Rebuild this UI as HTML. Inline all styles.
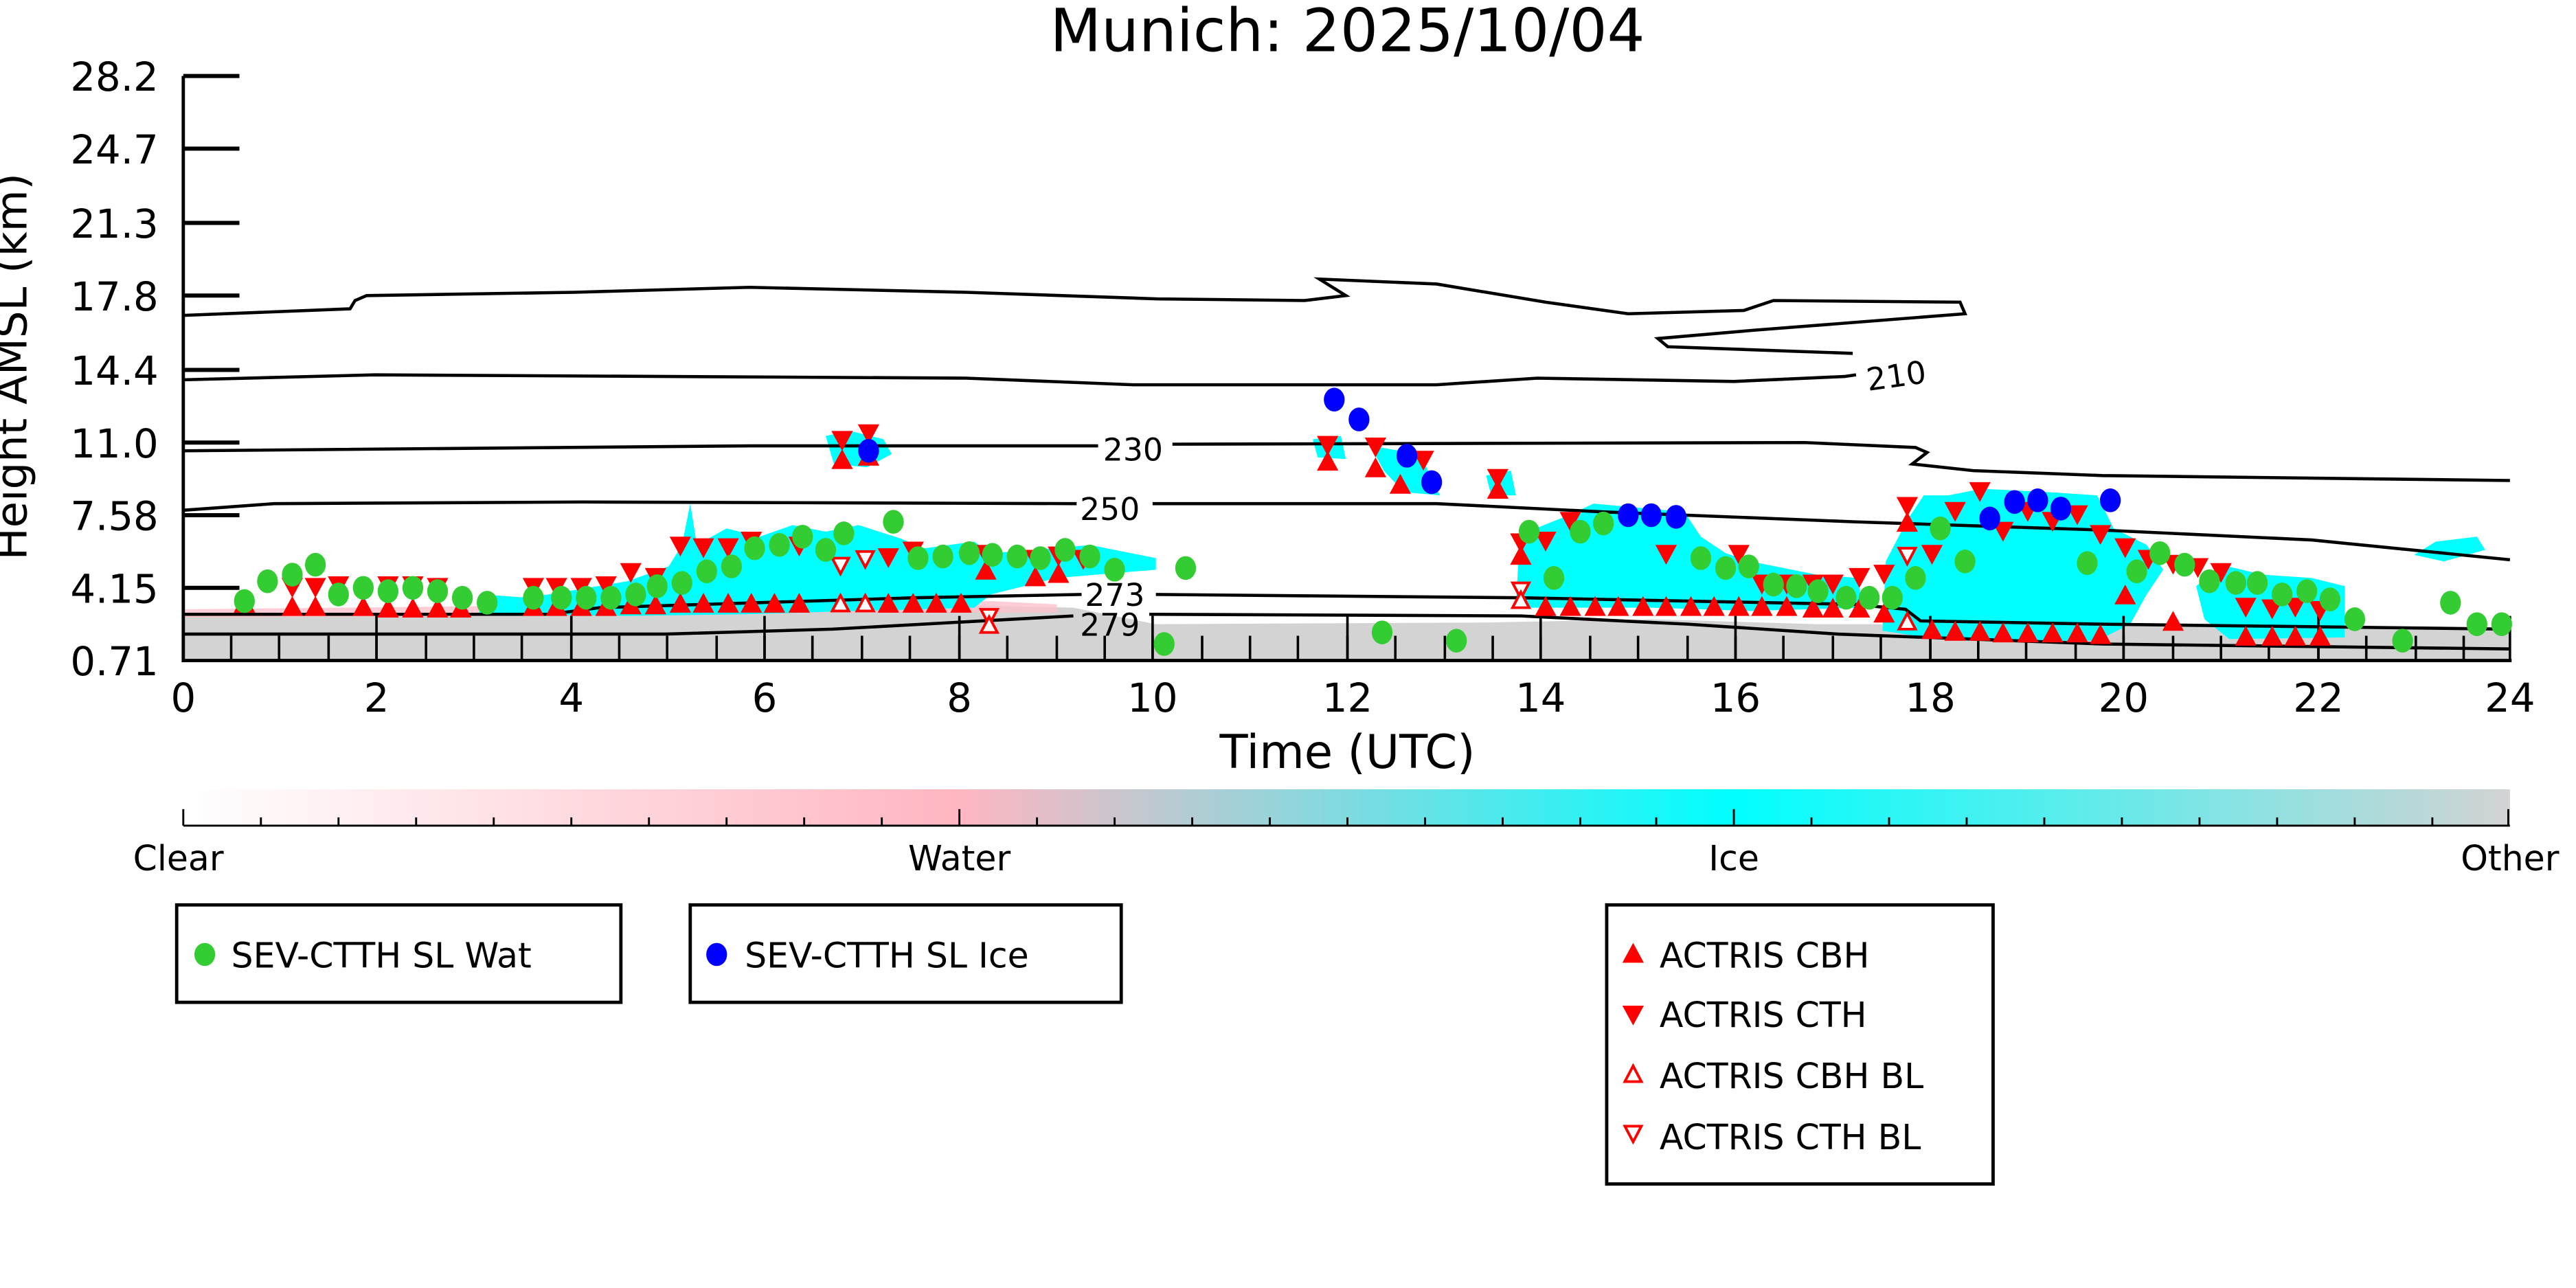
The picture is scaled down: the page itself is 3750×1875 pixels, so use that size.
<!DOCTYPE html>
<html><head><meta charset="utf-8"><style>
html,body{margin:0;padding:0;background:#fff;}
svg{display:block;}
text{font-family:"DejaVu Sans","Liberation Sans",sans-serif;fill:#000;}
</style></head><body>
<svg width="3750" height="1875" viewBox="0 0 1560 780" xmlns="http://www.w3.org/2000/svg">
<defs>
<path id="tu" d="M0,-7 L6.5,5 L-6.5,5Z" fill="#ff0000"/>
<path id="td" d="M0,7 L6.5,-5 L-6.5,-5Z" fill="#ff0000"/>
<path id="hu" d="M0,-5.5 L5,4 L-5,4Z" fill="#fff" stroke="#ff0000" stroke-width="1.6"/>
<path id="hd" d="M0,5.5 L5,-4 L-5,-4Z" fill="#fff" stroke="#ff0000" stroke-width="1.6"/>
<ellipse id="g" rx="6.3" ry="7.2" fill="#33cc33"/>
<ellipse id="b" rx="6.3" ry="7.2" fill="#0000ff"/>
<linearGradient id="cb" x1="0" x2="1" y1="0" y2="0">
<stop offset="0" stop-color="#ffffff"/>
<stop offset="0.333" stop-color="#ffb6c1"/>
<stop offset="0.666" stop-color="#00ffff"/>
<stop offset="1" stop-color="#d3d3d3"/>
</linearGradient>
</defs>

<text x="816" y="31" font-size="36" text-anchor="middle">Munich: 2025/10/04</text>

<path d="M111,373 L300,371 L400,370 L560,366 L650,368 L700,378 L900,377 L1000,375 L1100,378 L1300,378 L1520,381 L1520,400 L111,400 Z" fill="#d3d3d3"/>
<path d="M111,369 L300,367 L450,366 L600,364 L640,366 L640,371 L450,371 L300,373 L111,374Z" fill="#ffc0cb" opacity="0.8"/>

<g fill="#00ffff">
<path d="M290,372 L292,360 L320,362 L350,357 L380,352 L405,343 L413,330 L418,305 L422,330 L440,320 L460,325 L480,318 L500,322 L520,318 L545,326 L560,332 L590,328 L600,335 L640,332 L660,330 L700,338 L700,345 L640,350 L600,360 L590,368 L520,370 L450,372 L380,373 Z"/>
<path d="M500,264 L515,261 L535,266 L540,275 L525,283 L505,281 Z"/>
<path d="M795,266 L812,264 L815,278 L798,277Z"/>
<path d="M830,270 L860,275 L872,300 L850,298 L838,285Z"/>
<path d="M900,288 L915,285 L918,300 L903,300Z"/>
<path d="M918,368 L920,330 L930,320 L950,312 L965,305 L1020,310 L1030,325 L1045,335 L1060,340 L1100,348 L1125,350 L1128,368 L1060,370 L1000,368 Z"/>
<path d="M1140,382 L1142,340 L1155,315 L1165,300 L1180,300 L1200,296 L1240,298 L1270,300 L1280,320 L1300,330 L1310,345 L1300,360 L1290,378 L1270,388 L1200,388 L1160,385 Z"/>
<path d="M1330,355 L1345,342 L1370,348 L1400,350 L1420,355 L1420,386 L1350,387 L1335,375Z"/>
<path d="M1462,336 L1475,328 L1500,325 L1505,333 L1480,340Z"/>
</g>

<g fill="none" stroke="#000" stroke-width="1.9">
<path d="M111,191 L212,187 L215,182 L222,179 L348,177 L454,174 L585,177 L701,181 L790,182 L815,179 L799,169 L870,172 L936,183 L986,190 L1056,188 L1074,182 L1187,183 L1190,190 L1062,200 L1004,205 L1010,210 L1122,214"/>
<path d="M111,230 L227,227 L585,229 L686,233 L790,233 L870,233 L931,229 L1050,231 L1117,228 L1124,227"/>
<path d="M111,273 L454,270 L665,270"/>
<path d="M710,269 L1093,268 L1160,271 L1167,274 L1158,281 L1195,285 L1273,288 L1520,291"/>
<path d="M111,309 L166,305 L353,304 L652,305"/>
<path d="M698,305 L870,305 L971,310 L1123,316 L1273,321 L1400,327 L1520,339"/>
<path d="M111,372 L333,372 L363,368 L554,362 L655,360"/>
<path d="M700,360 L921,362 L1123,366 L1154,369 L1163,376 L1273,378 L1520,381"/>
<path d="M111,384 L403,384 L504,381 L650,373"/>
<path d="M696,372 L921,373 L1022,378 L1113,384 L1273,390 L1520,393"/>
</g>
<g font-size="19">
<text x="1130" y="234" transform="rotate(-8 1150 226)">210</text>
<text x="668" y="279">230</text>
<text x="654" y="315">250</text>
<text x="657" y="367">273</text>
<text x="654" y="385">279</text>
</g>

<g stroke="#000" stroke-width="1.5">
<path d="M140,385V400 M199,385V400 M258,385V400 M287,385V400 M316,385V400 M375,385V400 M434,385V400 M492,385V400 M551,385V400 M610,385V400 M669,385V400 M728,385V400 M786,385V400 M845,385V400 M904,385V400 M963,385V400 M1022,385V400 M1080,385V400 M1139,385V400 M1198,385V400 M1257,385V400 M1316,385V400 M1374,385V400 M1433,385V400 M1492,385V400
M169,385V400 M228,385V400 M346,385V400 M404,385V400 M463,385V400 M522,385V400 M581,385V400 M640,385V400 M698,385V400 M757,385V400 M816,385V400 M875,385V400 M933,385V400 M992,385V400 M1051,385V400 M1110,385V400 M1169,385V400 M1227,385V400 M1286,385V400 M1345,385V400 M1404,385V400 M1463,385V400"/>
<path d="M228,373V400 M346,373V400 M463,373V400 M581,373V400 M698,373V400 M816,373V400 M933,373V400 M1051,373V400 M1169,373V400 M1286,373V400 M1404,373V400 M1520,373V400"/>
</g>

<g stroke="#000" stroke-width="2">
<path d="M111,46V401 M110,400H1521"/>
<path d="M111,46H145 M111,90H145 M111,135H145 M111,179H145 M111,224H145 M111,268H145 M111,312H145 M111,356H145" stroke-width="2.5"/>
</g>
<g font-size="24" text-anchor="end">
<text x="96" y="55">28.2</text>
<text x="96" y="99">24.7</text>
<text x="96" y="144">21.3</text>
<text x="96" y="188">17.8</text>
<text x="96" y="233">14.4</text>
<text x="96" y="277">11.0</text>
<text x="96" y="321">7.58</text>
<text x="96" y="365">4.15</text>
<text x="96" y="409">0.71</text>
</g>
<g font-size="24" text-anchor="middle">
<text x="111" y="431">0</text><text x="228" y="431">2</text><text x="346" y="431">4</text>
<text x="463" y="431">6</text><text x="581" y="431">8</text><text x="698" y="431">10</text>
<text x="816" y="431">12</text><text x="933" y="431">14</text><text x="1051" y="431">16</text>
<text x="1169" y="431">18</text><text x="1286" y="431">20</text><text x="1404" y="431">22</text>
<text x="1520" y="431">24</text>
</g>
<text x="816" y="465" font-size="28" text-anchor="middle">Time (UTC)</text>
<text x="0" y="0" font-size="26" text-anchor="middle" transform="translate(16,222) rotate(-90)">Height AMSL (km)</text>

<g>
<use href="#tu" x="148" y="366"/>
<use href="#td" x="177" y="355"/><use href="#tu" x="177" y="368"/>
<use href="#td" x="191" y="355"/><use href="#tu" x="191" y="368"/>
<use href="#td" x="205" y="354"/><use href="#tu" x="220" y="368"/>
<use href="#td" x="235" y="354"/><use href="#tu" x="235" y="369"/>
<use href="#td" x="250" y="354"/><use href="#tu" x="250" y="369"/>
<use href="#td" x="265" y="355"/><use href="#tu" x="265" y="369"/>
<use href="#tu" x="279" y="369"/>
<use href="#td" x="323" y="355"/><use href="#tu" x="323" y="368"/>
<use href="#td" x="337" y="355"/><use href="#tu" x="337" y="368"/>
<use href="#td" x="352" y="355"/><use href="#tu" x="352" y="368"/>
<use href="#td" x="367" y="354"/><use href="#tu" x="367" y="368"/>
<use href="#td" x="382" y="346"/><use href="#tu" x="382" y="367"/>
<use href="#td" x="397" y="349"/><use href="#tu" x="397" y="367"/>
<use href="#td" x="412" y="330"/><use href="#tu" x="412" y="366"/>
<use href="#td" x="426" y="331"/><use href="#tu" x="426" y="366"/>
<use href="#td" x="441" y="331"/><use href="#tu" x="441" y="366"/>
<use href="#td" x="455" y="327"/><use href="#tu" x="455" y="366"/>
<use href="#tu" x="469" y="366"/><use href="#td" x="484" y="330"/><use href="#tu" x="484" y="366"/>
<use href="#hd" x="509" y="342"/><use href="#hu" x="509" y="366"/>
<use href="#hd" x="524" y="338"/><use href="#hu" x="524" y="366"/>
<use href="#td" x="538" y="337"/><use href="#tu" x="538" y="366"/>
<use href="#td" x="553" y="333"/><use href="#tu" x="553" y="366"/>
<use href="#tu" x="567" y="366"/><use href="#tu" x="582" y="366"/>
<use href="#td" x="597" y="335"/><use href="#tu" x="597" y="346"/>
<use href="#td" x="627" y="338"/><use href="#tu" x="627" y="350"/>
<use href="#td" x="641" y="336"/><use href="#tu" x="641" y="348"/>
<use href="#td" x="656" y="338"/>
<use href="#hd" x="599" y="373"/><use href="#hu" x="599" y="379"/>
<use href="#td" x="510" y="266"/><use href="#tu" x="510" y="279"/>
<use href="#td" x="526" y="262"/><use href="#tu" x="526" y="277"/>
<use href="#td" x="804" y="269"/><use href="#tu" x="804" y="280"/>
<use href="#td" x="833" y="270"/><use href="#tu" x="833" y="284"/>
<use href="#tu" x="848" y="294"/><use href="#td" x="862" y="278"/>
<use href="#td" x="907" y="289"/><use href="#tu" x="907" y="297"/>
<use href="#td" x="921" y="328"/><use href="#tu" x="921" y="337"/>
<use href="#hd" x="921" y="357"/><use href="#hu" x="921" y="364"/>
<use href="#td" x="936" y="327"/><use href="#td" x="951" y="315"/>
<use href="#tu" x="936" y="368"/><use href="#tu" x="951" y="368"/><use href="#tu" x="966" y="368"/>
<use href="#tu" x="980" y="368"/><use href="#tu" x="995" y="368"/><use href="#tu" x="1009" y="368"/>
<use href="#tu" x="1024" y="368"/><use href="#tu" x="1038" y="368"/><use href="#tu" x="1053" y="368"/>
<use href="#tu" x="1067" y="368"/><use href="#tu" x="1082" y="368"/><use href="#tu" x="1098" y="369"/>
<use href="#tu" x="1110" y="369"/><use href="#tu" x="1126" y="369"/>
<use href="#td" x="1009" y="335"/><use href="#td" x="1053" y="335"/>
<use href="#td" x="1067" y="353"/><use href="#td" x="1082" y="353"/><use href="#td" x="1098" y="353"/>
<use href="#td" x="1110" y="353"/><use href="#td" x="1126" y="349"/><use href="#td" x="1141" y="347"/>
<use href="#tu" x="1141" y="372"/>
<use href="#td" x="1155" y="306"/><use href="#tu" x="1155" y="317"/>
<use href="#hd" x="1155" y="336"/><use href="#hu" x="1155" y="377"/>
<use href="#td" x="1170" y="335"/><use href="#td" x="1184" y="309"/><use href="#td" x="1199" y="297"/>
<use href="#td" x="1213" y="321"/><use href="#td" x="1228" y="309"/><use href="#td" x="1243" y="315"/>
<use href="#td" x="1258" y="311"/><use href="#td" x="1272" y="323"/><use href="#td" x="1287" y="331"/>
<use href="#tu" x="1287" y="361"/><use href="#td" x="1301" y="338"/><use href="#td" x="1316" y="341"/>
<use href="#tu" x="1316" y="377"/><use href="#td" x="1331" y="343"/><use href="#td" x="1345" y="346"/>
<use href="#td" x="1360" y="367"/><use href="#td" x="1376" y="368"/><use href="#td" x="1390" y="367"/><use href="#td" x="1405" y="369"/>
<use href="#tu" x="1170" y="382"/><use href="#tu" x="1184" y="383"/><use href="#tu" x="1199" y="383"/>
<use href="#tu" x="1213" y="384"/><use href="#tu" x="1228" y="384"/><use href="#tu" x="1243" y="384"/>
<use href="#tu" x="1258" y="384"/><use href="#tu" x="1272" y="385"/>
<use href="#tu" x="1360" y="386"/><use href="#tu" x="1376" y="386"/><use href="#tu" x="1390" y="386"/><use href="#tu" x="1405" y="386"/>
</g>

<g>
<use href="#g" x="148" y="364"/><use href="#g" x="162" y="352"/><use href="#g" x="177" y="348"/>
<use href="#g" x="191" y="342"/><use href="#g" x="205" y="360"/><use href="#g" x="220" y="356"/>
<use href="#g" x="235" y="358"/><use href="#g" x="250" y="356"/><use href="#g" x="265" y="358"/>
<use href="#g" x="280" y="362"/><use href="#g" x="295" y="365"/><use href="#g" x="323" y="362"/>
<use href="#g" x="340" y="362"/><use href="#g" x="355" y="362"/><use href="#g" x="370" y="362"/>
<use href="#g" x="385" y="360"/><use href="#g" x="398" y="355"/><use href="#g" x="413" y="353"/>
<use href="#g" x="428" y="346"/><use href="#g" x="443" y="343"/><use href="#g" x="457" y="332"/>
<use href="#g" x="472" y="330"/><use href="#g" x="486" y="325"/><use href="#g" x="500" y="333"/>
<use href="#g" x="511" y="323"/><use href="#g" x="541" y="316"/><use href="#g" x="556" y="338"/>
<use href="#g" x="571" y="337"/><use href="#g" x="587" y="335"/><use href="#g" x="601" y="336"/>
<use href="#g" x="616" y="337"/><use href="#g" x="630" y="338"/><use href="#g" x="645" y="333"/>
<use href="#g" x="660" y="337"/><use href="#g" x="675" y="345"/><use href="#g" x="718" y="344"/>
<use href="#g" x="705" y="390"/><use href="#g" x="837" y="383"/><use href="#g" x="882" y="388"/>
<use href="#g" x="926" y="322"/><use href="#g" x="941" y="350"/><use href="#g" x="957" y="322"/>
<use href="#g" x="971" y="317"/><use href="#g" x="1030" y="338"/><use href="#g" x="1045" y="344"/>
<use href="#g" x="1059" y="343"/><use href="#g" x="1074" y="354"/><use href="#g" x="1088" y="355"/>
<use href="#g" x="1101" y="358"/><use href="#g" x="1118" y="362"/><use href="#g" x="1132" y="362"/>
<use href="#g" x="1146" y="362"/><use href="#g" x="1160" y="350"/><use href="#g" x="1175" y="320"/>
<use href="#g" x="1190" y="340"/><use href="#g" x="1264" y="341"/><use href="#g" x="1294" y="346"/>
<use href="#g" x="1308" y="335"/><use href="#g" x="1323" y="342"/><use href="#g" x="1338" y="352"/>
<use href="#g" x="1354" y="353"/><use href="#g" x="1367" y="353"/><use href="#g" x="1382" y="360"/>
<use href="#g" x="1397" y="358"/><use href="#g" x="1411" y="363"/><use href="#g" x="1426" y="375"/>
<use href="#g" x="1455" y="388"/><use href="#g" x="1484" y="365"/><use href="#g" x="1500" y="378"/>
<use href="#g" x="1515" y="378"/>
</g>
<g>
<use href="#b" x="526" y="273"/><use href="#b" x="808" y="242"/><use href="#b" x="823" y="254"/>
<use href="#b" x="852" y="276"/><use href="#b" x="867" y="292"/><use href="#b" x="986" y="312"/>
<use href="#b" x="1000" y="312"/><use href="#b" x="1015" y="313"/><use href="#b" x="1205" y="314"/>
<use href="#b" x="1220" y="304"/><use href="#b" x="1234" y="303"/><use href="#b" x="1248" y="308"/>
<use href="#b" x="1278" y="303"/>
</g>

<rect x="111" y="478" width="1409" height="22" fill="url(#cb)"/>
<g stroke="#000" stroke-width="1.2">
<path d="M111,500H1520"/>
<path d="M158,495V500 M205,495V500 M252,495V500 M299,495V500 M346,495V500 M393,495V500 M440,495V500 M487,495V500 M534,495V500 M628,495V500 M675,495V500 M722,495V500 M769,495V500 M816,495V500 M863,495V500 M910,495V500 M957,495V500 M1003,495V500 M1097,495V500 M1144,495V500 M1191,495V500 M1238,495V500 M1285,495V500 M1332,495V500 M1379,495V500 M1426,495V500 M1473,495V500"/>
<path d="M111,490V500 M581,490V500 M1050,490V500 M1519,490V500"/>
</g>
<g font-size="21" text-anchor="middle">
<text x="108" y="527">Clear</text>
<text x="581" y="527">Water</text>
<text x="1050" y="527">Ice</text>
<text x="1520" y="527">Other</text>
</g>

<g fill="#fff" stroke="#000" stroke-width="2">
<rect x="107" y="548" width="269" height="59"/>
<rect x="418" y="548" width="261" height="59"/>
<rect x="973" y="548" width="234" height="169"/>
</g>
<g font-size="21">
<ellipse cx="124" cy="578" rx="6.3" ry="7" fill="#33cc33"/>
<text x="140" y="586">SEV-CTTH SL Wat</text>
<ellipse cx="434" cy="578" rx="6.3" ry="7" fill="#0000ff"/>
<text x="451" y="586">SEV-CTTH SL Ice</text>
<use href="#tu" x="989" y="578"/>
<text x="1005" y="586">ACTRIS CBH</text>
<use href="#td" x="989" y="614"/>
<text x="1005" y="622">ACTRIS CTH</text>
<use href="#hu" x="989" y="651"/>
<text x="1005" y="659">ACTRIS CBH BL</text>
<use href="#hd" x="989" y="686"/>
<text x="1005" y="696">ACTRIS CTH BL</text>
</g>
</svg>
</body></html>
